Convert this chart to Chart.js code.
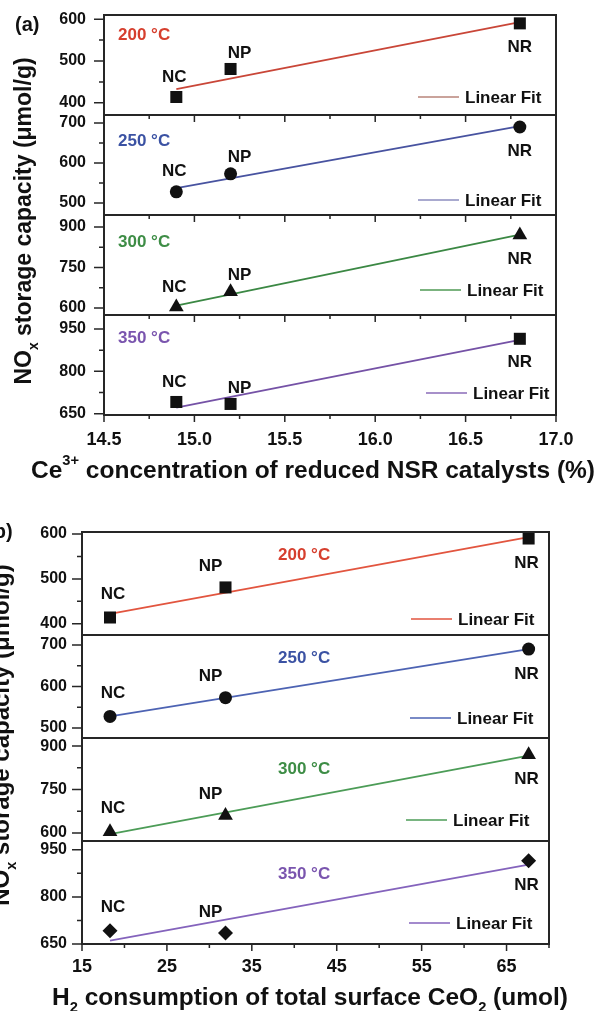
<!DOCTYPE html>
<html>
<head>
    <title>NOx storage capacity</title>
    <script src="https://cdn.jsdelivr.net/npm/chart.js"></script>
    <style>
        body { margin: 0; background-color: #ffffff; }
        .panel { position: absolute; left: 0; width: 601px; }
        #panelA { top: 0; height: 490px; }
        #panelB { top: 490px; height: 521px; }
    </style>
</head>
<body>
    <div class="panel" id="panelA"><canvas id="chartA" width="601" height="490"></canvas></div>
    <div class="panel" id="panelB"><canvas id="chartB" width="601" height="521"></canvas></div>

    <script>
        // data
        const tempLabels = ['200 °C', '250 °C', '300 °C', '350 °C'];
        const catalysts = ['NC', 'NP', 'NR'];
        const ce3Conc = [14.9, 15.2, 16.8];
        const h2Consumption = [18.3, 31.9, 67.6];
        const nox200 = [414, 481, 590];
        const nox250 = [528, 573, 690];
        const nox300 = [604, 660, 870];
        const nox350 = [692, 685, 915];
        // linear fit values at NC and NR
        const fitCe200 = [433, 593];
        const fitCe250 = [537, 692];
        const fitCe300 = [609, 871];
        const fitCe350 = [672, 911];
        const fitH2200 = [422, 593];
        const fitH2250 = [528, 690];
        const fitH2300 = [596, 867];
        const fitH2350 = [661, 903];
        // ticks
        const yMajorTicks = [[400, 500, 600], [500, 600, 700], [600, 750, 900], [650, 800, 950]];
        const yMinorTicks = [[450, 550], [550, 650], [675, 825], [725, 875]];
        const xMajorCe = [14.5, 15.0, 15.5, 16.0, 16.5, 17.0];
        const xMinorCe = [14.75, 15.25, 15.75, 16.25, 16.75];
        const xMajorH2 = [15, 25, 35, 45, 55, 65];
        const xMinorH2 = [20, 30, 40, 50, 60, 70];

        const FONT = 'Arial, "Liberation Sans", sans-serif';
        const textColors = ['#d63f2e', '#3b52a3', '#3e8d46', '#7a55ae'];

        const panelA = {
            canvas: 'chartA', x: ce3Conc, xMin: 14.5, xMax: 17.0,
            xMajor: xMajorCe, xMinor: xMinorCe, xFmt: v => v.toFixed(1),
            values: [nox200, nox250, nox300, nox350],
            fits: [fitCe200, fitCe250, fitCe300, fitCe350],
            yRanges: [[371, 610], [470, 720], [574, 944], [646, 999]],
            left: 104, padTop: 15, padRight: 45, xAxisHeight: 75, xTickGap: 14, yTickGap: 18,
            markers: ['rect', 'circle', 'triangle', 'rect'], markerR: [8.5, 6.5, 8.5, 8.5],
            lineColors: ['#c94638', '#4853a0', '#3b8844', '#7552a6'],
            legColors: ['#b8847a', '#8d8ebf', '#4f9a55', '#8a6bb8'],
            lblDx: [-2, 9, 0], lblDy: [-20, -16, 24],
            tempX: 118, tempDy: [20, 26, 27, 23],
            legTextX: [465, 465, 467, 473], legDy: [18, 15, 25, 22],
            innerTicks: true,
            tag: '(a)', tagX: 15, tagY: 31,
            yTitleX: 31, yTitleY: 221, yTitleSize: 23,
            xTitle: [['Ce', 0], ['3+', 1], [' concentration of reduced NSR catalysts (%)', 0]],
            xTitleX: 313, xTitleY: 478
        };

        const panelB = {
            canvas: 'chartB', x: h2Consumption, xMin: 15, xMax: 70,
            xMajor: xMajorH2, xMinor: xMinorH2, xFmt: v => String(v),
            values: [nox200, nox250, nox300, nox350],
            fits: [fitH2200, fitH2250, fitH2300, fitH2350],
            yRanges: [[375, 604.5], [476, 724], [572, 928], [650, 978]],
            left: 82, padTop: 42, padRight: 52, xAxisHeight: 67, xTickGap: 12, yTickGap: 15,
            markers: ['rect', 'circle', 'triangle', 'rectRot'], markerR: [8.5, 6.5, 8.5, 7.5],
            lineColors: ['#e2553f', '#4d63b3', '#4c9c57', '#8463bc'],
            legColors: ['#e2553f', '#4d63b3', '#4c9c57', '#8463bc'],
            lblDx: [3, -15, -2], lblDy: [-23, -21, 25],
            tempX: 278, tempDy: [23, 23, 31, 33],
            legTextX: [458, 457, 453, 456], legDy: [16, 20, 21, 21],
            innerTicks: false,
            tag: '(b)', tagX: -13, tagY: 48,
            yTitleX: 9, yTitleY: 245, yTitleSize: 24,
            xTitle: [['H', 0], ['2', -1], [' consumption of total surface CeO', 0], ['2', -1], [' (umol)', 0]],
            xTitleX: 310, xTitleY: 515
        };

        // text with super/subscripts, parts = [text, 0 | 1 (sup) | -1 (sub)]
        function drawRich(ctx, parts, x, y, size) {
            const fontFor = m => 'bold ' + (m ? size * 0.6 : size) + 'px ' + FONT;
            let total = 0;
            parts.forEach(([t, m]) => { ctx.font = fontFor(m); total += ctx.measureText(t).width; });
            let cx = x - total / 2;
            ctx.textAlign = 'left';
            ctx.textBaseline = 'alphabetic';
            parts.forEach(([t, m]) => {
                ctx.font = fontFor(m);
                const dy = m === 1 ? -size * 0.52 : (m === -1 ? size * 0.3 : 0);
                ctx.fillText(t, cx, y + dy);
                cx += ctx.measureText(t).width;
            });
        }

        function decor(p) {
            return {
                id: 'decor',
                afterDraw(chart) {
                    const ctx = chart.ctx;
                    const area = chart.chartArea;
                    const xs = chart.scales.x;
                    ctx.save();
                    ctx.strokeStyle = '#262626';
                    ctx.fillStyle = '#111';

                    p.values.forEach((vals, i) => {
                        const ys = chart.scales['y' + i];
                        // frame
                        ctx.lineWidth = 2;
                        ctx.strokeRect(area.left, ys.top, area.right - area.left, ys.bottom - ys.top);
                        // y ticks
                        ctx.lineWidth = 1.5;
                        ctx.beginPath();
                        yMajorTicks[i].forEach(v => {
                            const py = ys.getPixelForValue(v);
                            ctx.moveTo(area.left - 10, py); ctx.lineTo(area.left, py);
                        });
                        yMinorTicks[i].forEach(v => {
                            const py = ys.getPixelForValue(v);
                            ctx.moveTo(area.left - 5, py); ctx.lineTo(area.left, py);
                        });
                        ctx.stroke();
                        // x ticks at the bottom of each sub plot
                        if (i === p.values.length - 1 || p.innerTicks) {
                            ctx.beginPath();
                            p.xMajor.forEach(v => {
                                const px = xs.getPixelForValue(v);
                                ctx.moveTo(px, ys.bottom); ctx.lineTo(px, ys.bottom + 7);
                            });
                            p.xMinor.forEach(v => {
                                const px = xs.getPixelForValue(v);
                                ctx.moveTo(px, ys.bottom); ctx.lineTo(px, ys.bottom + 4);
                            });
                            ctx.stroke();
                        }

                        // NC / NP / NR labels
                        ctx.fillStyle = '#111';
                        ctx.font = 'bold 17px ' + FONT;
                        ctx.textAlign = 'center';
                        ctx.textBaseline = 'middle';
                        catalysts.forEach((c, k) => {
                            const px = xs.getPixelForValue(p.x[k]) + p.lblDx[k];
                            const py = ys.getPixelForValue(vals[k]) + p.lblDy[k];
                            ctx.fillText(c, px, py);
                        });

                        // temperature
                        ctx.fillStyle = textColors[i];
                        ctx.textAlign = 'left';
                        ctx.fillText(tempLabels[i], p.tempX, ys.top + p.tempDy[i]);

                        // legend
                        const ly = ys.bottom - p.legDy[i];
                        ctx.strokeStyle = p.legColors[i];
                        ctx.lineWidth = 1.6;
                        ctx.beginPath();
                        ctx.moveTo(p.legTextX[i] - 47, ly);
                        ctx.lineTo(p.legTextX[i] - 6, ly);
                        ctx.stroke();
                        ctx.strokeStyle = '#262626';
                        ctx.fillStyle = '#111';
                        ctx.fillText('Linear Fit', p.legTextX[i], ly + 1);
                    });

                    // panel tag
                    ctx.fillStyle = '#111';
                    ctx.font = 'bold 20px ' + FONT;
                    ctx.textAlign = 'left';
                    ctx.textBaseline = 'alphabetic';
                    ctx.fillText(p.tag, p.tagX, p.tagY);

                    // axis titles
                    drawRich(ctx, p.xTitle, p.xTitleX, p.xTitleY, 24.5);
                    ctx.save();
                    ctx.translate(p.yTitleX, p.yTitleY);
                    ctx.rotate(-Math.PI / 2);
                    drawRich(ctx, [['NO', 0], ['x', -1], [' storage capacity (\u03bcmol/g)', 0]], 0, 0, p.yTitleSize);
                    ctx.restore();

                    ctx.restore();
                }
            };
        }

        function makePanel(p) {
            const datasets = [];
            const scales = {};
            p.values.forEach((vals, i) => {
                datasets.push({
                    type: 'scatter',
                    label: tempLabels[i],
                    data: p.x.map((x, k) => ({ x: x, y: vals[k] })),
                    yAxisID: 'y' + i,
                    pointStyle: p.markers[i],
                    pointRadius: p.markerR[i],
                    pointBackgroundColor: '#111',
                    pointBorderColor: '#111',
                    pointBorderWidth: 0,
                    order: 0
                });
                datasets.push({
                    type: 'scatter',
                    label: 'Linear Fit',
                    data: [{ x: p.x[0], y: p.fits[i][0] }, { x: p.x[2], y: p.fits[i][1] }],
                    yAxisID: 'y' + i,
                    showLine: true,
                    pointRadius: 0,
                    borderColor: p.lineColors[i],
                    borderWidth: 1.8,
                    order: 1
                });
            });

            // later scales are placed higher in the stack
            for (let i = p.values.length - 1; i >= 0; i--) {
                const majors = yMajorTicks[i];
                const all = majors.concat(yMinorTicks[i]).sort((a, b) => a - b);
                scales['y' + i] = {
                    type: 'linear',
                    position: 'left',
                    stack: 'nox',
                    stackWeight: 1,
                    min: p.yRanges[i][0],
                    max: p.yRanges[i][1],
                    afterBuildTicks: s => { s.ticks = all.map(v => ({ value: v })); },
                    afterFit: s => { s.width = p.left; },
                    // tick marks are drawn by the decor plugin, tickLength only spaces the labels
                    grid: { display: false, tickLength: p.yTickGap },
                    border: { display: false },
                    ticks: {
                        autoSkip: false,
                        padding: 0,
                        color: '#111',
                        font: { family: FONT, size: 16, weight: 'bold' },
                        callback: v => majors.includes(v) ? String(v) : ''
                    }
                };
            }

            const xAll = p.xMajor.concat(p.xMinor).sort((a, b) => a - b);
            scales.x = {
                type: 'linear',
                position: 'bottom',
                min: p.xMin,
                max: p.xMax,
                afterBuildTicks: s => { s.ticks = xAll.map(v => ({ value: v })); },
                afterFit: s => { s.height = p.xAxisHeight; },
                grid: { display: false, tickLength: p.xTickGap },
                border: { display: false },
                ticks: {
                    autoSkip: false,
                    maxRotation: 0,
                    padding: 0,
                    color: '#111',
                    font: { family: FONT, size: 18, weight: 'bold' },
                    callback: v => p.xMajor.includes(v) ? p.xFmt(v) : ''
                }
            };

            new Chart(document.getElementById(p.canvas), {
                type: 'scatter',
                data: { datasets: datasets },
                options: {
                    responsive: false,
                    animation: false,
                    layout: { padding: { left: 0, top: p.padTop, right: p.padRight, bottom: 0 } },
                    plugins: { legend: { display: false }, tooltip: { enabled: false } },
                    scales: scales
                },
                plugins: [decor(p)]
            });
        }

        makePanel(panelA);
        makePanel(panelB);
    </script>
</body>
</html>
